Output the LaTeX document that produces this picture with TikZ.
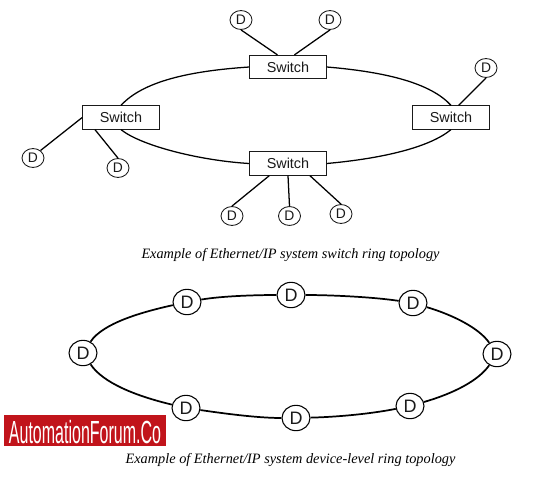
\documentclass[tikz,border=0pt]{standalone}
\usepackage{fontspec}
\setmainfont{Liberation Serif}
\newfontfamily\lsans{Liberation Sans}
\definecolor{brandred}{HTML}{C1141B}
\definecolor{inkc}{HTML}{1A1A1A}
\tikzset{
  swbox/.style={draw=inkc,line width=0.7pt,fill=white,minimum width=57.5pt,minimum height=17.5pt,inner sep=0pt,font=\lsans\fontsize{10.8}{12}\selectfont,text=inkc},
  devs/.style={ellipse,draw=inkc,line width=0.65pt,fill=white,minimum width=16.5pt,minimum height=14.2pt,inner sep=0pt,font=\lsans\fontsize{10.4}{11}\selectfont,text=inkc},
  devl/.style={ellipse,draw=black,line width=0.8pt,fill=white,minimum width=21pt,minimum height=19pt,inner sep=0pt,font=\lsans\fontsize{13.5}{14}\selectfont,text=inkc},
  wire/.style={draw=black,line width=0.95pt},
  ringw/.style={draw=black,line width=1.3pt},
  capt/.style={font=\itshape\fontsize{10.73}{12}\selectfont,text=black,inner sep=0pt}
}
\usetikzlibrary{shapes.geometric}
\begin{document}
\begin{tikzpicture}[x=0.75pt,y=-0.75pt]
\useasboundingbox (0,0) rectangle (556,482);
% switch ring
\node[swbox] (st) at (288,67) {Switch};
\node[swbox] (sl) at (121,117.5) {Switch};
\node[swbox] (sr) at (451,117.5) {Switch};
\node[swbox] (sb) at (288,163.5) {Switch};
\node[devs] (d1) at (241,20) {D};
\node[devs] (d2) at (330,20) {D};
\node[devs] (d3) at (486,68) {D};
\node[devs] (d4) at (33,158) {D};
\node[devs] (d5) at (118,168) {D};
\node[devs] (d6) at (232,216) {D};
\node[devs] (d7) at (289.5,216) {D};
\node[devs] (d8) at (341,214) {D};
\draw[wire] (st.west) .. controls +(-60,4) and +(22,-24) .. (sl.north);
\draw[wire] (st.east) .. controls +(60,5) and +(-20,-22) .. (sr.north);
\draw[wire] (sl.south) .. controls +(20,16) and +(-50,-3) .. (sb.west);
\draw[wire] (sr.south) .. controls +(-22,18) and +(55,-5) .. (sb.east);
\draw[wire] (d1.south) -- (st.131);
\draw[wire] (d2.south) -- (st.62);
\draw[wire] (d3.south) -- (sr.58);
\draw[wire] (d4.45) -- (sl.west);
\draw[wire] (d5.north) -- (sl.205);
\draw[wire] (d6.north) -- (sb.213);
\draw[wire] (d7.north) -- (sb.south);
\draw[wire] (d8.north) -- (sb.331);
\node[capt] (c1) at (290.5,255.5) {Example of Ethernet/IP system switch ring topology};
% device ring
\node[devl] (a) at (83,353) {D};
\node[devl] (b) at (187,302) {D};
\node[devl] (c) at (291,295) {D};
\node[devl] (e) at (413,303) {D};
\node[devl] (f) at (497,354) {D};
\node[devl] (g) at (410,406) {D};
\node[devl] (h) at (296,418) {D};
\node[devl] (i) at (186,408) {D};
\draw[ringw] (a) .. controls +(20,-30) and +(-45,10) .. (b);
\draw[ringw] (b) .. controls +(35,-6) and +(-35,0) .. (c);
\draw[ringw] (c) .. controls +(40,0) and +(-40,-6) .. (e);
\draw[ringw] (e) .. controls +(40,12) and +(-18,-26) .. (f);
\draw[ringw] (f) .. controls +(-18,26) and +(45,-13) .. (g);
\draw[ringw] (g) .. controls +(-40,8) and +(40,-1) .. (h);
\draw[ringw] (h) .. controls +(-40,0) and +(35,5) .. (i);
\draw[ringw] (i) .. controls +(-50,-12) and +(20,30) .. (a);
\node[fill=brandred,minimum width=121.5pt,minimum height=23.2pt,inner sep=0pt] (logo) at (85,430.5) {};
\node[text=white,xscale=0.5,inner sep=0pt,font=\lsans\fontsize{24}{26}\selectfont] (logot) at (85,432) {AutomationForum.Co};
\node[capt] (c2) at (290.5,459.5) {Example of Ethernet/IP system device-level ring topology};
\end{tikzpicture}
\end{document}
